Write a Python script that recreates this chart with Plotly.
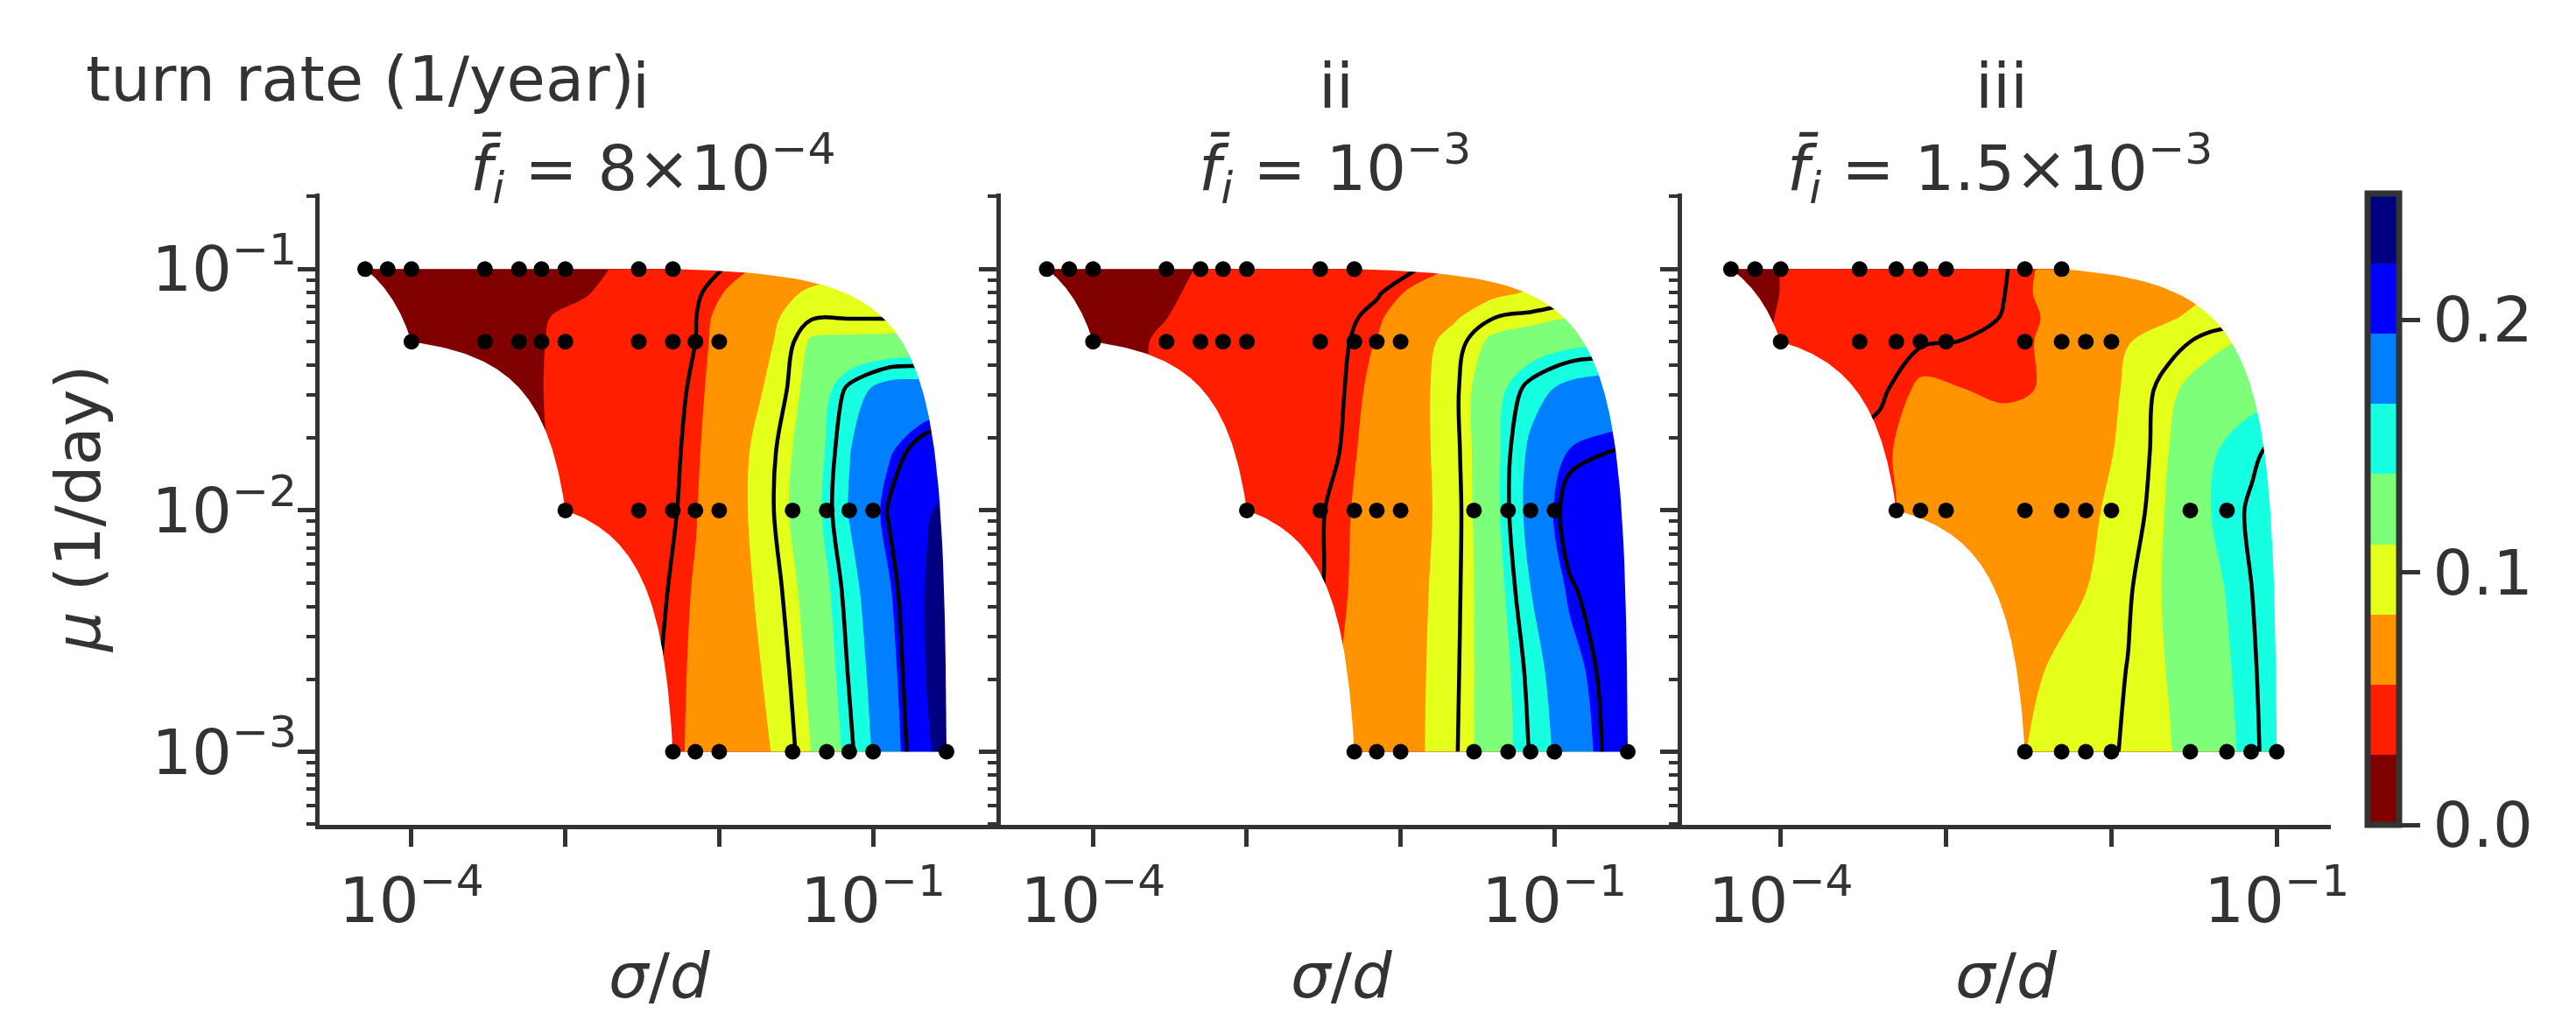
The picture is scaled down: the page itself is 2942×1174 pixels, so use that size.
import numpy as np
import plotly.graph_objects as go

W, H = 2942, 1174
INK = "#333333"
FONT = "DejaVu Sans"
FS = 72

# ---------------- data ----------------
# grid of the interpolated turn-rate field (sigma/d columns, mu rows from top 0.1 to bottom 0.001)
sigma_grid_a = [3.98e-5, 7.08e-5, 1.26e-4, 2.24e-4, 3.98e-4, 7.08e-4, 1.26e-3, 2.24e-3, 3.98e-3,
                7.08e-3, 1.26e-2, 2.24e-2, 3.98e-2, 7.08e-2, 1.26e-1, 2.24e-1, 3.98e-1]
sigma_grid_b = [3.98e-5, 7.08e-5, 1.26e-4, 2.24e-4, 3.98e-4, 7.08e-4, 1.26e-3, 2.24e-3, 3.98e-3,
                7.08e-3, 1.26e-2, 2.24e-2, 3.98e-2, 7.08e-2, 1.26e-1]
mu_grid = [1.0e-1, 7.94e-2, 6.31e-2, 5.01e-2, 3.16e-2, 1.78e-2, 1.0e-2, 4.68e-3, 2.14e-3, 1.0e-3]

turn_rate_i = [
    [0.008, 0.009, 0.010, 0.012, 0.015, 0.019, 0.024, 0.0291, 0.0369, 0.0447, 0.0525, 0.060, 0.070, 0.080, 0.085, 0.088, 0.090],
    [0.009, 0.009, 0.010, 0.011, 0.013, 0.0183, 0.0259, 0.0334, 0.0410, 0.0485, 0.0586, 0.0735, 0.088, 0.092, 0.094, 0.095, 0.096],
    [0.009, 0.009, 0.010, 0.0149, 0.0208, 0.0266, 0.0324, 0.0382, 0.0440, 0.0499, 0.0643, 0.0802, 0.0985, 0.099, 0.099, 0.100, 0.100],
    [0.009, 0.010, 0.0101, 0.0139, 0.0195, 0.0273, 0.0330, 0.0386, 0.0443, 0.0501, 0.0665, 0.0830, 0.1142, 0.116, 0.117, 0.119, 0.120],
    [0.008, 0.010, 0.012, 0.016, 0.0219, 0.0276, 0.0333, 0.0390, 0.0448, 0.0517, 0.0691, 0.0886, 0.1205, 0.1554, 0.1783, 0.180, 0.182],
    [0.008, 0.010, 0.012, 0.016, 0.022, 0.0272, 0.0332, 0.0392, 0.0451, 0.0532, 0.0739, 0.0979, 0.1243, 0.1661, 0.1920, 0.208, 0.212],
    [0.008, 0.010, 0.013, 0.017, 0.022, 0.0279, 0.0339, 0.0399, 0.0450, 0.0549, 0.0749, 0.0994, 0.1281, 0.1689, 0.2014, 0.2205, 0.232],
    [0.008, 0.010, 0.013, 0.018, 0.024, 0.030, 0.0356, 0.0416, 0.0476, 0.0568, 0.0736, 0.0937, 0.1207, 0.1581, 0.1921, 0.2240, 0.240],
    [0.008, 0.010, 0.013, 0.018, 0.024, 0.030, 0.036, 0.043, 0.0495, 0.0575, 0.0717, 0.0883, 0.1160, 0.1523, 0.1861, 0.2235, 0.240],
    [0.008, 0.010, 0.013, 0.018, 0.024, 0.030, 0.036, 0.044, 0.0510, 0.0575, 0.0702, 0.0842, 0.1115, 0.1466, 0.1828, 0.2192, 0.245],
]
turn_rate_ii = [
    [0.010, 0.012, 0.019, 0.0230, 0.0269, 0.0307, 0.0345, 0.0383, 0.0421, 0.0460, 0.0498, 0.0565, 0.064, 0.072, 0.078, 0.082, 0.085],
    [0.010, 0.013, 0.0199, 0.0241, 0.0282, 0.0324, 0.0365, 0.0407, 0.0448, 0.0490, 0.0590, 0.0687, 0.0784, 0.086, 0.090, 0.092, 0.093],
    [0.010, 0.013, 0.0212, 0.0255, 0.0297, 0.0339, 0.0381, 0.0424, 0.0466, 0.0533, 0.0671, 0.0804, 0.0995, 0.104, 0.111, 0.113, 0.114],
    [0.010, 0.014, 0.0234, 0.0275, 0.0315, 0.0355, 0.0395, 0.0436, 0.0476, 0.0563, 0.0728, 0.0927, 0.116, 0.125, 0.132, 0.134, 0.135],
    [0.012, 0.016, 0.022, 0.0272, 0.0315, 0.0357, 0.0399, 0.0442, 0.0484, 0.0596, 0.0758, 0.0961, 0.1296, 0.1573, 0.175, 0.182, 0.185],
    [0.012, 0.016, 0.022, 0.0284, 0.0332, 0.0373, 0.0415, 0.0456, 0.0498, 0.0620, 0.0762, 0.0949, 0.1308, 0.1724, 0.1950, 0.1995, 0.202],
    [0.012, 0.016, 0.022, 0.027, 0.0321, 0.0368, 0.0416, 0.0464, 0.0521, 0.0632, 0.0759, 0.0933, 0.1306, 0.1764, 0.208, 0.214, 0.216],
    [0.012, 0.016, 0.022, 0.027, 0.032, 0.0368, 0.0416, 0.0464, 0.0527, 0.0649, 0.0775, 0.0951, 0.1262, 0.1671, 0.1981, 0.208, 0.212],
    [0.012, 0.016, 0.022, 0.027, 0.032, 0.037, 0.042, 0.050, 0.0550, 0.0660, 0.0786, 0.0966, 0.1243, 0.1558, 0.1863, 0.206, 0.212],
    [0.012, 0.016, 0.022, 0.027, 0.032, 0.037, 0.042, 0.048, 0.0545, 0.0651, 0.0790, 0.0978, 0.1236, 0.152, 0.1796, 0.204, 0.210],
]
turn_rate_iii = [
    [0.018, 0.025, 0.0300, 0.0338, 0.0377, 0.0415, 0.0454, 0.0492, 0.0575, 0.063, 0.068, 0.072, 0.075, 0.078, 0.080],
    [0.018, 0.025, 0.0299, 0.0339, 0.0378, 0.0418, 0.0458, 0.0498, 0.0580, 0.064, 0.070, 0.077, 0.083, 0.086, 0.088],
    [0.020, 0.026, 0.0300, 0.0330, 0.0370, 0.0412, 0.0455, 0.0506, 0.0562, 0.0625, 0.069, 0.081, 0.091, 0.094, 0.096],
    [0.020, 0.026, 0.031, 0.036, 0.043, 0.049, 0.0502, 0.053, 0.0565, 0.065, 0.0828, 0.0936, 0.106, 0.114, 0.118],
    [0.024, 0.030, 0.036, 0.044, 0.048, 0.058, 0.0558, 0.053, 0.0565, 0.068, 0.0868, 0.108, 0.121, 0.133, 0.136],
    [0.030, 0.036, 0.042, 0.050, 0.054, 0.0589, 0.062, 0.0645, 0.068, 0.076, 0.0872, 0.1113, 0.1369, 0.147, 0.158],
    [0.034, 0.040, 0.046, 0.050, 0.054, 0.0580, 0.0630, 0.0685, 0.0740, 0.0797, 0.0902, 0.1138, 0.1388, 0.1525, 0.166],
    [0.040, 0.045, 0.050, 0.054, 0.056, 0.058, 0.062, 0.067, 0.0780, 0.0833, 0.0983, 0.1141, 0.1332, 0.1500, 0.166],
    [0.045, 0.050, 0.054, 0.058, 0.062, 0.066, 0.070, 0.078, 0.0835, 0.0919, 0.1005, 0.1121, 0.1295, 0.1479, 0.166],
    [0.050, 0.055, 0.060, 0.065, 0.070, 0.074, 0.077, 0.080, 0.0861, 0.0939, 0.1018, 0.1100, 0.1266, 0.1460, 0.168],
]

# simulated sample points (black dots): one list of sigma/d per mu row
dot_mu = [1e-1, 5e-2, 1e-2, 1e-3]
dot_sigma_i = [
    [5e-5, 7e-5, 1e-4, 3e-4, 5e-4, 7e-4, 1e-3, 3e-3, 5e-3],
    [1e-4, 3e-4, 5e-4, 7e-4, 1e-3, 3e-3, 5e-3, 7e-3, 1e-2],
    [1e-3, 3e-3, 5e-3, 7e-3, 1e-2, 3e-2, 5e-2, 7e-2, 1e-1],
    [5e-3, 7e-3, 1e-2, 3e-2, 5e-2, 7e-2, 1e-1, 3e-1],
]
dot_sigma_ii = [
    [5e-5, 7e-5, 1e-4, 3e-4, 5e-4, 7e-4, 1e-3, 3e-3, 5e-3],
    [1e-4, 3e-4, 5e-4, 7e-4, 1e-3, 3e-3, 5e-3, 7e-3, 1e-2],
    [1e-3, 3e-3, 5e-3, 7e-3, 1e-2, 3e-2, 5e-2, 7e-2, 1e-1],
    [5e-3, 7e-3, 1e-2, 3e-2, 5e-2, 7e-2, 1e-1, 3e-1],
]
dot_sigma_iii = [
    [5e-5, 7e-5, 1e-4, 3e-4, 5e-4, 7e-4, 1e-3, 3e-3, 5e-3],
    [1e-4, 3e-4, 5e-4, 7e-4, 1e-3, 3e-3, 5e-3, 7e-3, 1e-2],
    [5e-4, 7e-4, 1e-3, 3e-3, 5e-3, 7e-3, 1e-2, 3e-2, 5e-2],
    [3e-3, 5e-3, 7e-3, 1e-2, 3e-2, 5e-2, 7e-2, 1e-1],
]

panel_names = ["i", "ii", "iii"]
fbar_values = ["8×10<sup>−4</sup>", "10<sup>−3</sup>", "1.5×10<sup>−3</sup>"]
x_tick_vals = [1e-4, 1e-3, 1e-2, 1e-1]
x_tick_text = ["10<sup>−4</sup>", "", "", "10<sup>−1</sup>"]
y_tick_vals = [1e-3, 1e-2, 1e-1]
y_tick_text = ["10<sup>−3</sup>", "10<sup>−2</sup>", "10<sup>−1</sup>"]
cbar_tick_vals = [0.0, 0.1, 0.2]
cbar_tick_text = ["0.0", "0.1", "0.2"]
level_start, level_end, n_bands = 0.0, 0.25, 9
line_levels = (0.05, 0.20, 0.05)
band_colors = ["#800000", "#ff1e00", "#ff9400", "#e4ff1a", "#7dff7a",
               "#16ffe0", "#0080ff", "#0000ff", "#000080"]

# ---------------- layout geometry (pixels) ----------------
panel_px = [(356.5, 1135.0), (1135.0, 1913.0), (1913.0, 2654.0)]
panel_xrange = [(-4.600, -0.170), (-4.600, -0.170), (-4.597, -0.673)]
title_dx = [-22, -6, -6]
plot_top, plot_bot = 213.0, 934.0
y_range = (-3.303, -0.687)

colorscale = []
for k, c in enumerate(band_colors):
    colorscale += [[k / n_bands, c], [(k + 1) / n_bands, c]]


def hull_chains(xs, ys):
    """Convex hull (linear sigma/d, mu space) of the sample points -> left and right chains."""
    pts = sorted(set(zip(xs, ys)))

    def cross(o, a, b):
        return (a[0] - o[0]) * (b[1] - o[1]) - (a[1] - o[1]) * (b[0] - o[0])

    lower, upper = [], []
    for p in pts:
        while len(lower) >= 2 and cross(lower[-2], lower[-1], p) <= 0:
            lower.pop()
        lower.append(p)
    for p in reversed(pts):
        while len(upper) >= 2 and cross(upper[-2], upper[-1], p) <= 0:
            upper.pop()
        upper.append(p)
    ymin, ymax = min(ys), max(ys)
    left = []
    for p in lower:
        left.append(p)
        if p[1] == ymin:
            break
    right = []
    for p in upper:
        right.append(p)
        if p[1] == ymax:
            break
    return left, right[::-1]


def densify(chain, n=80):
    xs, ys = [], []
    for (x0, y0), (x1, y1) in zip(chain[:-1], chain[1:]):
        t = np.linspace(0, 1, n)
        xs += list(x0 + t * (x1 - x0))
        ys += list(y0 + t * (y1 - y0))
    return xs, ys


fig = go.Figure()
panels = [
    (sigma_grid_a, turn_rate_i, dot_sigma_i),
    (sigma_grid_a, turn_rate_ii, dot_sigma_ii),
    (sigma_grid_b, turn_rate_iii, dot_sigma_iii),
]

mu_asc = mu_grid[::-1]
for p, (sig, zt, dots) in enumerate(panels):
    xa = "x" if p == 0 else f"x{p + 1}"
    ya = "y" if p == 0 else f"y{p + 1}"
    z = [row for row in zt[::-1]]
    fig.add_trace(go.Contour(
        x=sig, y=mu_asc, z=z, xaxis=xa, yaxis=ya,
        autocontour=False,
        contours=dict(start=level_start, end=level_end, size=(level_end - level_start) / n_bands,
                      coloring="fill", showlines=False),
        colorscale=colorscale, zmin=level_start, zmax=level_end + 1e-8,
        line=dict(width=0, smoothing=1.0),
        showscale=(p == 0), hoverinfo="skip",
        colorbar=dict(
            x=2696 / W, xanchor="left", xpad=0, xref="paper",
            y=1 - (plot_top + plot_bot) / 2 / H, yanchor="middle", ypad=0, yref="paper",
            len=plot_bot - plot_top, lenmode="pixels", thickness=36, thicknessmode="pixels",
            outlinewidth=7, outlinecolor=INK,
            tickmode="array", tickvals=cbar_tick_vals, ticktext=cbar_tick_text,
            ticks="outside", ticklen=21, tickwidth=5, tickcolor=INK,
            tickfont=dict(size=FS, color=INK, family=FONT),
        ),
    ))
    fig.add_trace(go.Contour(
        x=sig, y=mu_asc, z=z, xaxis=xa, yaxis=ya,
        autocontour=False,
        contours=dict(start=line_levels[0], end=line_levels[1], size=line_levels[2],
                      coloring="none", showlines=True),
        line=dict(color="black", width=4.5, smoothing=1.0),
        showscale=False, hoverinfo="skip",
    ))
    # white mask outside the convex hull of the simulated points
    all_x = [s for row in dots for s in row]
    all_y = [m for m, row in zip(dot_mu, dots) for _ in row]
    left, right = hull_chains(all_x, all_y)
    y_top, y_bot = max(all_y) * 1.03, min(all_y) / 1.03
    xL, xR = sig[0] / 1.2, sig[-1] * 1.2
    lx, ly = densify(left)
    mx = [xL, left[0][0]] + lx + [left[-1][0], xL]
    my = [y_top, y_top] + ly + [y_bot, y_bot]
    rx, ry = densify(right)
    nx = [right[0][0]] + rx + [right[-1][0], xR, xR]
    ny = [y_top] + ry + [y_bot, y_bot, y_top]
    for px_, py_ in ((mx, my), (nx, ny)):
        fig.add_trace(go.Scatter(x=px_, y=py_, xaxis=xa, yaxis=ya, mode="lines", fill="toself",
                                 fillcolor="white", line=dict(width=0, color="white"),
                                 hoverinfo="skip", showlegend=False))
    fig.add_trace(go.Scatter(x=all_x, y=all_y, xaxis=xa, yaxis=ya, mode="markers",
                             marker=dict(size=18, color="black", line=dict(width=0)),
                             hoverinfo="skip", showlegend=False))

axis_common = dict(type="log", showline=True, linecolor=INK, linewidth=5, ticks="outside",
                   ticklen=20, tickwidth=4.5, tickcolor=INK, showgrid=False, zeroline=False,
                   automargin=False, tickfont=dict(size=FS, color=INK, family=FONT))
minor_y = [k * 10.0 ** e for e in (-4, -3, -2, -1) for k in range(2, 10)
           if 10 ** y_range[0] * 0.999 <= k * 10.0 ** e <= 10 ** y_range[1] * 1.001]

layout = dict(width=W, height=H, margin=dict(l=0, r=0, t=0, b=0), autosize=False,
              paper_bgcolor="white", plot_bgcolor="white", showlegend=False,
              font=dict(family=FONT, size=FS, color=INK))
annotations = []
for p in range(3):
    sfx = "" if p == 0 else str(p + 1)
    x0, x1 = panel_px[p]
    layout["xaxis" + sfx] = dict(axis_common, domain=[x0 / W, x1 / W], anchor="y" + sfx,
                                 range=list(panel_xrange[p]), tickmode="array",
                                 tickvals=x_tick_vals, ticktext=x_tick_text)
    layout["yaxis" + sfx] = dict(axis_common, domain=[1 - plot_bot / H, 1 - plot_top / H],
                                 anchor="x" + sfx, range=list(y_range), tickmode="array",
                                 tickvals=y_tick_vals, ticktext=y_tick_text,
                                 showticklabels=(p == 0), ticklabelstandoff=-14,
                                 minor=dict(tickmode="array", tickvals=minor_y, ticks="outside",
                                            ticklen=10, tickwidth=3.5, tickcolor=INK,
                                            showgrid=False))
    cx = (x0 + x1) / 2
    annotations.append(dict(text=panel_names[p], x=(cx + title_dx[p]) / W, y=1 - 90 / H,
                            xref="paper", yref="paper", showarrow=False, xanchor="center",
                            yanchor="middle", font=dict(size=FS, color=INK, family=FONT)))
    annotations.append(dict(text="<i>f\u0304</i><sub><i>i</i></sub> = " + fbar_values[p],
                            x=(cx - 8) / W, y=1 - 184 / H, xref="paper", yref="paper",
                            showarrow=False, xanchor="center", yanchor="middle",
                            font=dict(size=FS, color=INK, family=FONT)))
    annotations.append(dict(text="<i>σ</i>/<i>d</i>", x=cx / W, y=1 - 1106 / H, xref="paper",
                            yref="paper", showarrow=False, xanchor="center", yanchor="middle",
                            font=dict(size=FS, color=INK, family=FONT)))
annotations.append(dict(text="<i>μ</i> (1/day)", x=81 / W, y=1 - 573 / H, xref="paper",
                        yref="paper", showarrow=False, xanchor="center", yanchor="middle",
                        textangle=-90, font=dict(size=FS, color=INK, family=FONT)))
annotations.append(dict(text="turn rate (1/year)", x=88 / W, y=1 - 82 / H, xref="paper",
                        yref="paper", showarrow=False, xanchor="left", yanchor="middle",
                        font=dict(size=FS, color=INK, family=FONT)))
layout["annotations"] = annotations
fig.update_layout(**layout)
fig.write_html("out.html")
